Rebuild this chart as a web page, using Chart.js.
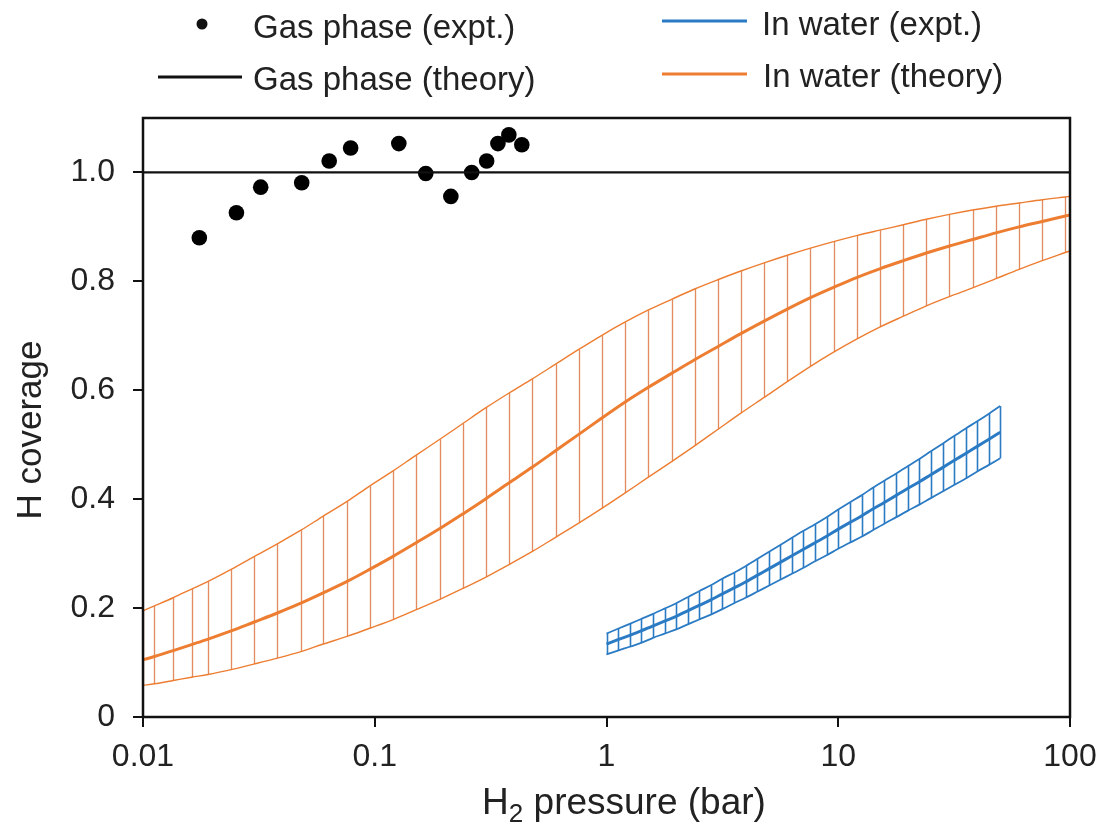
<!DOCTYPE html>
<html>
<head>
<meta charset="utf-8">
<script src="https://cdn.jsdelivr.net/npm/chart.js@4.4.1/dist/chart.umd.min.js"></script>
<style>
    html, body { margin: 0; padding: 0; background: #ffffff; }
    #wrap { position: relative; width: 1109px; height: 825px; }
</style>
</head>
<body>
<div id="wrap"><canvas id="coverageChart"></canvas></div>
<script>
// Axis ticks
const xTicks = [0.01, 0.1, 1, 10, 100];
const xTickLabels = ['0.01', '0.1', '1', '10', '100'];
const yTicks = [0, 0.2, 0.4, 0.6, 0.8, 1.0];
const yTickLabels = ['0', '0.2', '0.4', '0.6', '0.8', '1.0'];

// Gas phase (expt.)
const gasP = [0.0175, 0.0253, 0.0322, 0.0484, 0.0636, 0.0787, 0.127, 0.166, 0.213, 0.262, 0.304, 0.340, 0.379, 0.431];
const gasCov = [0.880, 0.926, 0.973, 0.981, 1.021, 1.045, 1.053, 0.998, 0.956, 1.000, 1.021, 1.053, 1.069, 1.051];

// Gas phase (theory)
const gasTheoryP = [0.01, 100];
const gasTheoryCov = [1.0, 1.0];

// In water (theory): centre and band
const theoryP = [0.01, 0.0112, 0.0135, 0.0162, 0.0191, 0.024, 0.030, 0.038, 0.048, 0.060,
    0.076, 0.095, 0.120, 0.151, 0.191, 0.240, 0.302, 0.380, 0.479, 0.603,
    0.759, 0.955, 1.20, 1.51, 1.91, 2.40, 3.02, 3.80, 4.79, 6.03,
    7.59, 9.55, 12.0, 15.1, 19.1, 24.0, 30.2, 38.0, 47.9, 60.3,
    75.9, 95.5, 100];
const theoryMid = [0.105, 0.111, 0.122, 0.133, 0.143, 0.158, 0.174, 0.191, 0.209, 0.228,
    0.249, 0.271, 0.295, 0.320, 0.346, 0.373, 0.401, 0.430, 0.459, 0.489,
    0.519, 0.549, 0.578, 0.605, 0.631, 0.656, 0.680, 0.704, 0.727, 0.749,
    0.770, 0.789, 0.807, 0.823, 0.838, 0.852, 0.865, 0.877, 0.889, 0.900,
    0.910, 0.920, 0.922];
const theoryHi = [0.195, 0.204, 0.219, 0.235, 0.249, 0.271, 0.294, 0.318, 0.343, 0.369,
    0.396, 0.424, 0.452, 0.481, 0.510, 0.539, 0.568, 0.595, 0.621, 0.648,
    0.675, 0.701, 0.725, 0.747, 0.767, 0.786, 0.803, 0.819, 0.834, 0.848,
    0.861, 0.873, 0.884, 0.894, 0.904, 0.914, 0.923, 0.931, 0.938, 0.944,
    0.950, 0.955, 0.956];
const theoryLo = [0.058, 0.061, 0.067, 0.073, 0.078, 0.087, 0.097, 0.108, 0.120, 0.134,
    0.148, 0.163, 0.179, 0.197, 0.216, 0.236, 0.257, 0.280, 0.304, 0.330,
    0.356, 0.383, 0.411, 0.440, 0.469, 0.498, 0.528, 0.558, 0.587, 0.616,
    0.644, 0.670, 0.694, 0.716, 0.736, 0.755, 0.772, 0.788, 0.805, 0.822,
    0.838, 0.853, 0.856];

// In water (expt.): centre and band
const waterP = [1, 1.12, 1.26, 1.41, 1.58, 1.78, 2.00, 2.24, 2.51, 2.82,
    3.16, 3.55, 3.98, 4.47, 5.01, 5.62, 6.31, 7.08, 7.94, 8.91,
    10.0, 11.2, 12.6, 14.1, 15.8, 17.8, 20.0, 22.4, 25.1, 28.2,
    31.6, 35.5, 39.8, 44.7, 50.0];
const waterMid = [0.134, 0.142, 0.150, 0.158, 0.167, 0.176, 0.185, 0.195, 0.205, 0.215,
    0.226, 0.237, 0.248, 0.260, 0.272, 0.284, 0.296, 0.308, 0.320, 0.332,
    0.345, 0.357, 0.369, 0.382, 0.394, 0.407, 0.420, 0.432, 0.445, 0.458,
    0.471, 0.484, 0.497, 0.510, 0.523];
const waterHi = [0.153, 0.162, 0.171, 0.180, 0.189, 0.199, 0.209, 0.220, 0.231, 0.242,
    0.254, 0.265, 0.277, 0.290, 0.303, 0.316, 0.329, 0.342, 0.354, 0.367,
    0.381, 0.394, 0.407, 0.421, 0.434, 0.447, 0.461, 0.474, 0.488, 0.502,
    0.516, 0.530, 0.543, 0.557, 0.571];
const waterLo = [0.115, 0.122, 0.129, 0.136, 0.145, 0.153, 0.161, 0.170, 0.179, 0.188,
    0.198, 0.209, 0.219, 0.230, 0.241, 0.252, 0.263, 0.274, 0.286, 0.297,
    0.309, 0.320, 0.331, 0.343, 0.355, 0.367, 0.379, 0.390, 0.402, 0.414,
    0.426, 0.438, 0.451, 0.463, 0.475];

const ORANGE = '#ed7d31';
const BLUE = '#2b7bc4';
const FONT = "'Liberation Sans', Arial, sans-serif";

function pts(xs, ys) {
    return xs.map((x, i) => ({ x: x, y: ys[i] }));
}

document.addEventListener('DOMContentLoaded', function() {
    if (typeof Chart === 'undefined') {
        console.error('Chart.js is not loaded');
        return;
    }

    // Vertical hatch lines between band edges, one per data point
    const hatchPlugin = {
        id: 'hatch',
        beforeDatasetsDraw(chart) {
            const ctx = chart.ctx;
            const xs = chart.scales.x;
            const ys = chart.scales.y;
            const area = chart.chartArea;
            const bands = [
                { p: theoryP, lo: theoryLo, hi: theoryHi, color: 'rgba(222, 126, 78, 0.9)', width: 1.3 },
                { p: waterP, lo: waterLo, hi: waterHi, color: BLUE, width: 1.6 }
            ];
            ctx.save();
            ctx.beginPath();
            ctx.rect(area.left, area.top, area.right - area.left, area.bottom - area.top);
            ctx.clip();
            bands.forEach(b => {
                ctx.strokeStyle = b.color;
                ctx.lineWidth = b.width;
                b.p.forEach((p, i) => {
                    const px = Math.round(xs.getPixelForValue(p)) + 0.5;
                    ctx.beginPath();
                    ctx.moveTo(px, ys.getPixelForValue(b.lo[i]));
                    ctx.lineTo(px, ys.getPixelForValue(b.hi[i]));
                    ctx.stroke();
                });
            });
            ctx.restore();
        }
    };

    // Box around the plot, axis titles and the two-column legend
    const decorPlugin = {
        id: 'decor',
        afterDraw(chart) {
            const ctx = chart.ctx;
            const a = chart.chartArea;
            ctx.save();
            ctx.strokeStyle = '#111';
            ctx.lineWidth = 2.5;
            ctx.strokeRect(a.left, a.top, a.right - a.left, a.bottom - a.top);

            ctx.fillStyle = '#222';
            ctx.textBaseline = 'alphabetic';

            // x title with subscript
            const partA = 'H';
            const partB = ' pressure (bar)';
            ctx.font = '37px ' + FONT;
            const wA = ctx.measureText(partA).width;
            const wB = ctx.measureText(partB).width;
            ctx.font = '26px ' + FONT;
            const wSub = ctx.measureText('2').width;
            const total = wA + wSub + wB;
            let tx = 624 - total / 2;
            const base = 814;
            ctx.textAlign = 'left';
            ctx.font = '37px ' + FONT;
            ctx.fillText(partA, tx, base);
            tx += wA;
            ctx.font = '26px ' + FONT;
            ctx.fillText('2', tx, base + 8);
            tx += wSub;
            ctx.font = '37px ' + FONT;
            ctx.fillText(partB, tx, base);

            // y title
            ctx.save();
            ctx.translate(31, 430);
            ctx.rotate(-Math.PI / 2);
            ctx.textAlign = 'center';
            ctx.textBaseline = 'middle';
            ctx.font = '35px ' + FONT;
            ctx.fillText('H coverage', 0, 0);
            ctx.restore();

            // legend
            ctx.font = '33px ' + FONT;
            ctx.textAlign = 'left';
            ctx.fillStyle = '#111';
            ctx.beginPath();
            ctx.arc(202, 24, 5.5, 0, Math.PI * 2);
            ctx.fill();
            ctx.fillStyle = '#222';
            ctx.fillText('Gas phase (expt.)', 253, 38);

            ctx.lineWidth = 3;
            ctx.strokeStyle = '#111';
            ctx.beginPath();
            ctx.moveTo(158, 77);
            ctx.lineTo(242, 77);
            ctx.stroke();
            ctx.fillText('Gas phase (theory)', 253, 90);

            ctx.strokeStyle = BLUE;
            ctx.beginPath();
            ctx.moveTo(662, 21);
            ctx.lineTo(747, 21);
            ctx.stroke();
            ctx.fillText('In water (expt.)', 762, 35);

            ctx.strokeStyle = ORANGE;
            ctx.beginPath();
            ctx.moveTo(662, 74);
            ctx.lineTo(747, 74);
            ctx.stroke();
            ctx.fillText('In water (theory)', 763, 87);
            ctx.restore();
        }
    };

    const lineBase = {
        type: 'line',
        pointRadius: 0,
        fill: false,
        cubicInterpolationMode: 'monotone'
    };

    new Chart(document.getElementById('coverageChart'), {
        type: 'scatter',
        data: {
            datasets: [{
                ...lineBase,
                label: 'In water (theory) upper',
                data: pts(theoryP, theoryHi),
                borderColor: ORANGE,
                borderWidth: 1.4
            }, {
                ...lineBase,
                label: 'In water (theory) lower',
                data: pts(theoryP, theoryLo),
                borderColor: ORANGE,
                borderWidth: 1.4
            }, {
                ...lineBase,
                label: 'In water (theory)',
                data: pts(theoryP, theoryMid),
                borderColor: ORANGE,
                borderWidth: 3
            }, {
                ...lineBase,
                label: 'In water (expt.) upper',
                data: pts(waterP, waterHi),
                borderColor: BLUE,
                borderWidth: 1.8
            }, {
                ...lineBase,
                label: 'In water (expt.) lower',
                data: pts(waterP, waterLo),
                borderColor: BLUE,
                borderWidth: 1.8
            }, {
                ...lineBase,
                label: 'In water (expt.)',
                data: pts(waterP, waterMid),
                borderColor: BLUE,
                borderWidth: 3
            }, {
                ...lineBase,
                label: 'Gas phase (theory)',
                data: pts(gasTheoryP, gasTheoryCov),
                borderColor: '#111',
                borderWidth: 2.2
            }, {
                label: 'Gas phase (expt.)',
                data: pts(gasP, gasCov),
                pointRadius: 7.8,
                pointBackgroundColor: '#000',
                pointBorderWidth: 0,
                showLine: false
            }]
        },
        options: {
            responsive: true,
            maintainAspectRatio: false,
            animation: false,
            layout: {
                padding: { top: 118, right: 39, left: 0, bottom: 0 }
            },
            plugins: {
                legend: { display: false },
                tooltip: { enabled: false }
            },
            scales: {
                x: {
                    type: 'logarithmic',
                    min: 0.01,
                    max: 100,
                    afterBuildTicks: scale => {
                        scale.ticks = xTicks.map(v => ({ value: v, major: true }));
                    },
                    afterFit: scale => { scale.height = 108; },
                    border: { display: false },
                    grid: {
                        drawOnChartArea: false,
                        drawTicks: true,
                        tickLength: 10,
                        color: '#111',
                        lineWidth: 2
                    },
                    ticks: {
                        autoSkip: false,
                        maxRotation: 0,
                        padding: 11,
                        color: '#222',
                        font: { family: FONT, size: 32 },
                        callback: (value, index) => xTickLabels[index]
                    }
                },
                y: {
                    type: 'linear',
                    min: 0,
                    max: 1.1,
                    afterBuildTicks: scale => {
                        scale.ticks = yTicks.map(v => ({ value: v }));
                    },
                    afterFit: scale => { scale.width = 143; },
                    border: { display: false },
                    grid: {
                        drawOnChartArea: false,
                        drawTicks: true,
                        tickLength: 10,
                        color: '#111',
                        lineWidth: 2
                    },
                    ticks: {
                        padding: 18,
                        color: '#222',
                        font: { family: FONT, size: 32 },
                        callback: (value, index) => yTickLabels[index]
                    }
                }
            }
        },
        plugins: [hatchPlugin, decorPlugin]
    });
});
</script>
</body>
</html>
